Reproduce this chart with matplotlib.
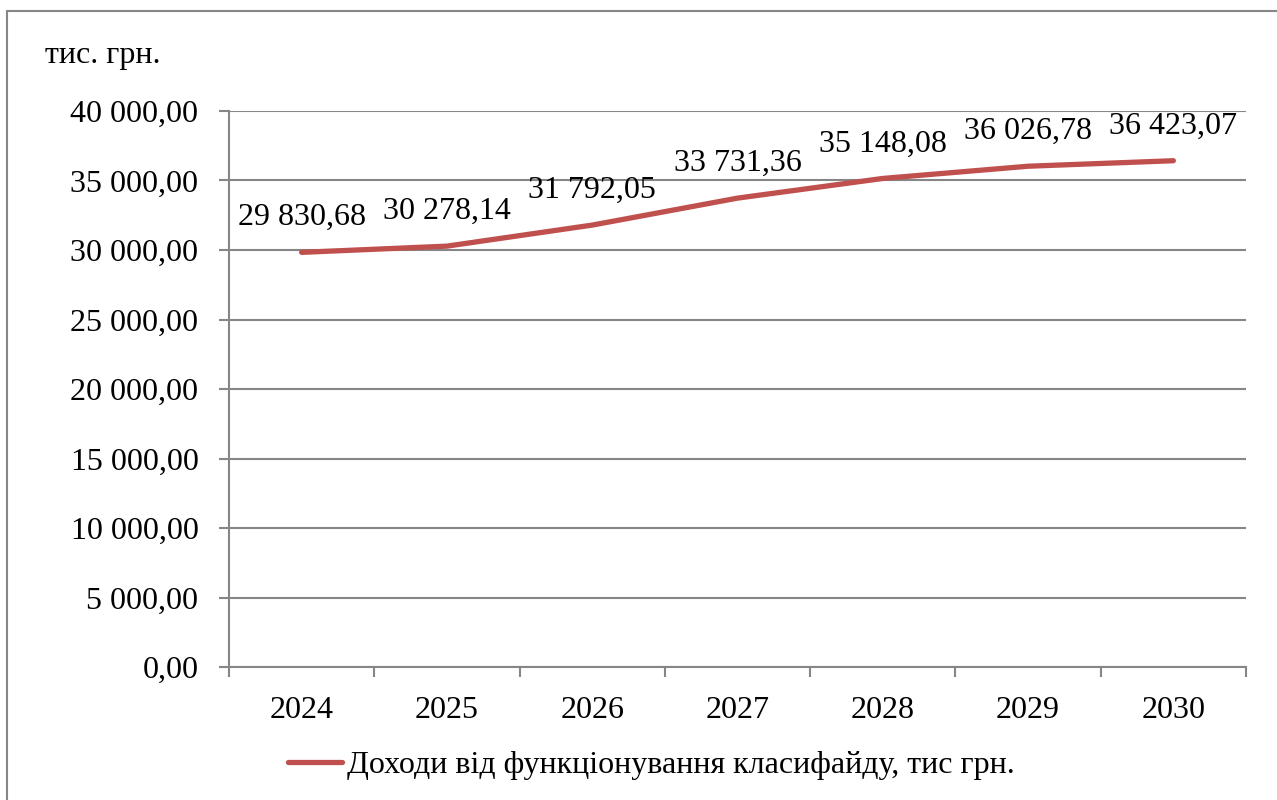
import matplotlib
matplotlib.use("Agg")
import matplotlib.pyplot as plt
from matplotlib.patches import Rectangle
from matplotlib.ticker import FixedLocator, FuncFormatter

years = ["2024", "2025", "2026", "2027", "2028", "2029", "2030"]
income = [29830.68, 30278.14, 31792.05, 33731.36, 35148.08, 36026.78, 36423.07]
y_ticks = [0, 5000, 10000, 15000, 20000, 25000, 30000, 35000, 40000]
series_name = "Доходи від функціонування класифайду, тис грн."
unit_label = "тис. грн."

LINE = "#C0504D"
GRID = "#868686"
FS = 23

plt.rcParams["font.family"] = ["Liberation Serif", "DejaVu Serif"]


def ua(v):
    # 36423.07 -> "36 423,07"
    return f"{v:,.2f}".replace(",", " ").replace(".", ",")


fig = plt.figure(figsize=(12.77, 8.0), dpi=100)
fig.patch.set_facecolor("white")

# outer chart frame
fig.patches.append(Rectangle((7 / 1277, -0.1), 1.2, 1 - 11 / 800 + 0.1,
                             transform=fig.transFigure, fill=False,
                             ec=GRID, lw=1.5))

ax = fig.add_axes([229 / 1277, 1 - 667 / 800, 1017 / 1277, 556 / 800])
x = list(range(len(years)))
line, = ax.plot(x, income, color=LINE, lw=3.8, solid_capstyle="round",
                solid_joinstyle="round", label=series_name, zorder=3)

for xi, v in zip(x, income):
    ax.annotate(ua(v), (xi, v), xytext=(0, 19.5), textcoords="offset points",
                ha="center", va="baseline", fontsize=FS, color="black")

ax.set_xlim(-0.5, len(years) - 0.5)
ax.set_ylim(0, 40000)
ax.set_xticks(x)
ax.set_xticklabels(years, fontsize=FS)
ax.xaxis.set_minor_locator(FixedLocator([i - 0.5 for i in range(len(years) + 1)]))
ax.tick_params(axis="x", which="major", length=0, pad=21)
ax.tick_params(axis="x", which="minor", length=7, width=1.5, color=GRID)

ax.yaxis.set_major_locator(FixedLocator(y_ticks))
ax.yaxis.set_major_formatter(FuncFormatter(lambda v, _: ua(v)))
ax.tick_params(axis="y", length=7, width=1.5, color=GRID, pad=15, labelsize=FS)

ax.grid(axis="y", color=GRID, lw=1.5)
ax.set_axisbelow(True)
for side in ("top", "right"):
    ax.spines[side].set_visible(False)
for side in ("left", "bottom"):
    ax.spines[side].set_color(GRID)
    ax.spines[side].set_linewidth(1.5)

fig.text(45 / 1277, 1 - 55 / 800, unit_label, fontsize=FS, va="center", ha="left")

fig.legend(handles=[line], loc="center", bbox_to_anchor=(651 / 1277, 1 - 765 / 800),
           frameon=False, fontsize=FS, handlelength=1.7, handletextpad=0.15,
           borderpad=0)

fig.savefig("out.png", dpi=100, facecolor="white")
